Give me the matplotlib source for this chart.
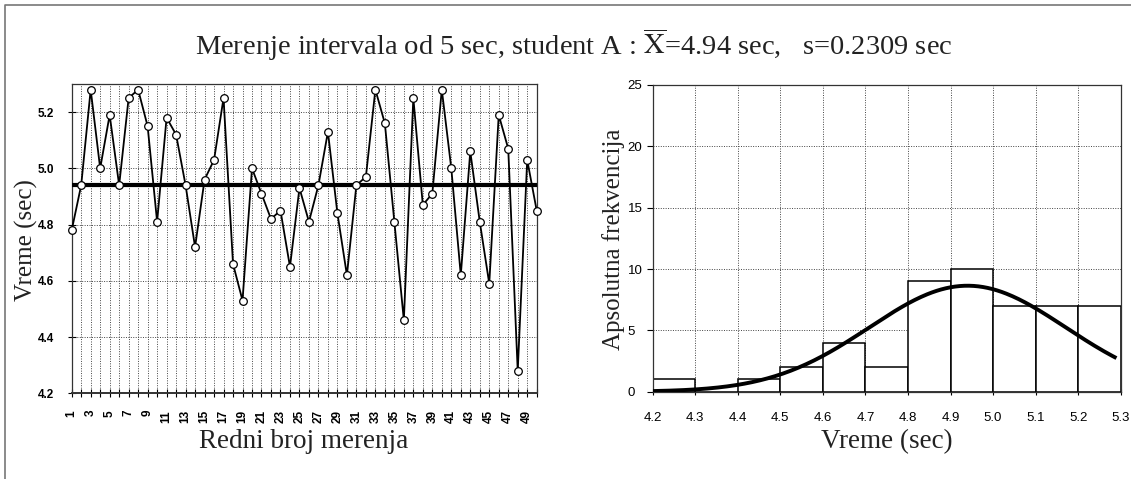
import numpy as np
import matplotlib
matplotlib.use("Agg")
import matplotlib.pyplot as plt
from matplotlib.lines import Line2D

# ---------------- data ----------------
measurement_no = list(range(1, 51))
times = [4.78, 4.94, 5.28, 5.00, 5.19, 4.94, 5.25, 5.28, 5.15, 4.81,
         5.18, 5.12, 4.94, 4.72, 4.96, 5.03, 5.25, 4.66, 4.53, 5.00,
         4.91, 4.82, 4.85, 4.65, 4.93, 4.81, 4.94, 5.13, 4.84, 4.62,
         4.94, 4.97, 5.28, 5.16, 4.81, 4.46, 5.25, 4.87, 4.91, 5.28,
         5.00, 4.62, 5.06, 4.81, 4.59, 5.19, 5.07, 4.28, 5.03, 4.85]
mean_value = 4.94
std_value = 0.2309

bin_edges = [4.2, 4.3, 4.4, 4.5, 4.6, 4.7, 4.8, 4.9, 5.0, 5.1, 5.2, 5.3]
bin_counts = [1, 0, 1, 2, 4, 2, 9, 10, 7, 7, 7]

left_yticks = [4.2, 4.4, 4.6, 4.8, 5.0, 5.2]
right_yticks = [0, 5, 10, 15, 20, 25]
right_xticks = [4.2, 4.3, 4.4, 4.5, 4.6, 4.7, 4.8, 4.9, 5.0, 5.1, 5.2, 5.3]

title_text = r"Merenje intervala od 5 sec, student A : $\overline{\mathrm{X}}$=4.94 sec,   s=0.2309 sec"

# ---------------- style ----------------
plt.rcParams['mathtext.fontset'] = 'stix'
SERIF = ['Liberation Serif', 'DejaVu Serif']
TICKF = ['Liberation Sans Narrow', 'Liberation Sans', 'DejaVu Sans']
W, H = 1131, 479
fig = plt.figure(figsize=(W / 100, H / 100), dpi=100)
fig.patch.set_facecolor('white')

def fx(px):
    return px / W

def fy(py):
    return 1 - py / H

grid_kw = dict(color='#444444', linestyle=(0, (1, 1.5)), linewidth=0.7)

# ---------------- left chart ----------------
ax1 = fig.add_axes([fx(71.7), fy(393.3), fx(536.7) - fx(71.7), fy(84) - fy(393.3)])
ax1.set_xlim(1, 50)
ax1.set_ylim(4.2, 5.3)
ax1.set_xticks(measurement_no)
ax1.set_xticklabels([str(n) if n % 2 == 1 else '' for n in measurement_no],
                    rotation=90, fontfamily=TICKF, fontweight='bold', fontsize=8.5)
ax1.set_yticks(left_yticks)
ax1.set_yticklabels(['%.1f' % v for v in left_yticks],
                    fontfamily=TICKF, fontweight='bold', fontsize=8.5)
ax1.tick_params(axis='x', direction='inout', length=6, width=0.8, pad=9)
ax1.tick_params(axis='y', direction='inout', length=6, width=0.8, pad=10)
ax1.grid(True, **grid_kw)
ax1.set_axisbelow(True)
for sp in ax1.spines.values():
    sp.set_color('#333333')
    sp.set_linewidth(0.9)
ax1.spines['bottom'].set_linewidth(1.4)

ax1.axhline(mean_value, color='black', linewidth=3, zorder=3)
ax1.plot(measurement_no, times, color='black', linewidth=1.3, marker='o',
         markersize=5.5, markerfacecolor='white', markeredgecolor='black',
         markeredgewidth=0.9, zorder=4, clip_on=False)

# ---------------- right chart ----------------
ax2 = fig.add_axes([fx(652.7), fy(391.7), fx(1120.7) - fx(652.7), fy(85) - fy(391.7)])
ax2.set_xlim(4.2, 5.3)
ax2.set_ylim(0, 25)
ax2.set_xticks(right_xticks)
ax2.set_xticklabels(['%.1f' % v for v in right_xticks], fontfamily=TICKF, fontsize=9.5)
ax2.set_yticks(right_yticks)
ax2.set_yticklabels([str(v) for v in right_yticks], fontfamily=TICKF, fontsize=9.5)
for lab in ax2.get_yticklabels():
    lab.set_horizontalalignment('left')
ax2.tick_params(axis='x', direction='inout', length=5, width=0.8, pad=12)
ax2.tick_params(axis='y', direction='out', length=4, width=0.8, pad=14)
ax2.grid(True, **grid_kw)
ax2.set_axisbelow(True)
for sp in ax2.spines.values():
    sp.set_color('#333333')
    sp.set_linewidth(0.9)

widths = np.diff(bin_edges)
ax2.bar(bin_edges[:-1], bin_counts, width=widths, align='edge',
        facecolor='white', edgecolor='black', linewidth=1.1, zorder=2)

n_total = sum(bin_counts)
bw = bin_edges[1] - bin_edges[0]
xc = np.linspace(4.2, 5.29, 300)
yc = n_total * bw / (std_value * np.sqrt(2 * np.pi)) * np.exp(-0.5 * ((xc - mean_value) / std_value) ** 2)
ax2.plot(xc, yc, color='black', linewidth=2.8, zorder=3, solid_capstyle='butt')

# ---------------- texts ----------------
fig.text(fx(574), fy(45), title_text, fontfamily=SERIF, fontsize=20.5,
         ha='center', va='center', color='#222222')
fig.text(fx(304), fy(442), 'Redni broj merenja', fontfamily=SERIF, fontsize=19.5,
         ha='center', va='center', color='#222222')
fig.text(fx(887), fy(442), 'Vreme (sec)', fontfamily=SERIF, fontsize=19.5,
         ha='center', va='center', color='#222222')
fig.text(fx(26), fy(240), 'Vreme (sec)', fontfamily=SERIF, fontsize=18,
         ha='center', va='center', rotation=90, color='#222222')
fig.text(fx(614), fy(239), 'Apsolutna frekvencija', fontfamily=SERIF, fontsize=18,
         ha='center', va='center', rotation=90, color='#222222')

# frame lines (top and left)
fig.add_artist(Line2D([fx(5), fx(5), 1.0], [0.0, fy(5), fy(5)],
                      transform=fig.transFigure, color='#777777', linewidth=1.2))

fig.savefig('out.png', dpi=100)
